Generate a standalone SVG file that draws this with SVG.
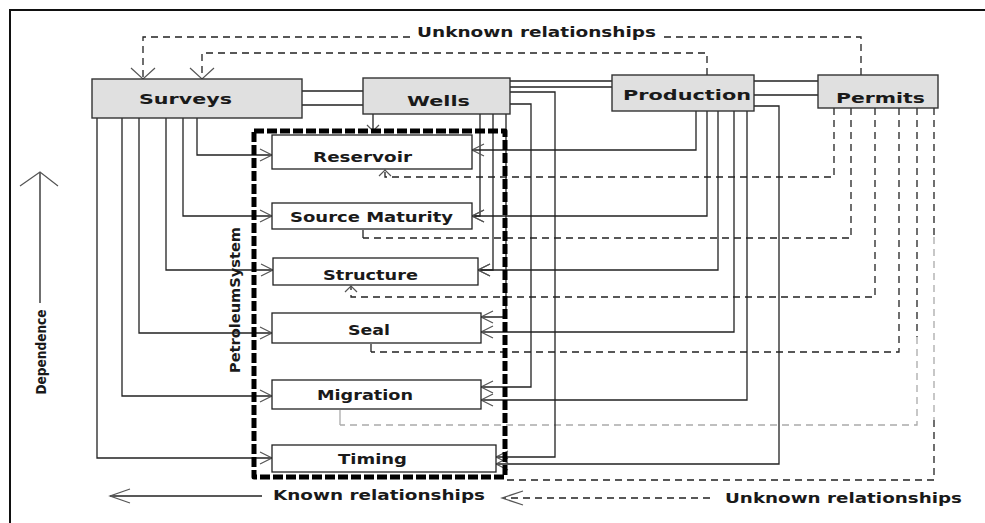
<svg xmlns="http://www.w3.org/2000/svg" width="985" height="523" viewBox="0 0 985 523">
  <style>
    .frame { fill: none; stroke: #111; stroke-width: 2; }
    .top { fill: #e0e0e0; stroke: #333; stroke-width: 1.4; }
    .elem { fill: #fff; stroke: #222; stroke-width: 1.3; }
    .lbl { font-family: "DejaVu Sans", "Liberation Sans", sans-serif; font-weight: bold; font-size: 14px; fill: #1a1a1a; }
    .known { fill: none; stroke: #222; stroke-width: 1.3; }
    .unknown { fill: none; stroke: #222; stroke-width: 1.3; stroke-dasharray: 7 5; }
    .faint { fill: none; stroke: #aaa; stroke-width: 1.3; stroke-dasharray: 7 5; }
    .tick { fill: none; stroke: #222; stroke-width: 1.3; }
    .head { fill: none; stroke: #555; stroke-width: 1.2; stroke-dasharray: none; }
    .sys { fill: none; stroke: #000; stroke-width: 5; stroke-dasharray: 10 3; stroke-linejoin: round; }
  </style>
  <defs>
    <marker id="arr" markerUnits="userSpaceOnUse" viewBox="-14 -10 16 20" markerWidth="16" markerHeight="20" refX="0" refY="0" orient="auto" overflow="visible">
      <path class="head" d="M-12,-6 L0,0 L-12,6"/>
    </marker>
    <marker id="arrWide" markerUnits="userSpaceOnUse" viewBox="-14 -14 16 28" markerWidth="16" markerHeight="28" refX="0" refY="0" orient="auto" overflow="visible">
      <path class="head" d="M-11,-12 L0,0 L-11,12"/>
    </marker>
    <marker id="arrSmall" markerUnits="userSpaceOnUse" viewBox="-10 -8 12 16" markerWidth="12" markerHeight="16" refX="0" refY="0" orient="auto" overflow="visible">
      <path class="head" d="M-6,-6 L0,0 L-6,6"/>
    </marker>
  </defs>

  <!-- page frame -->
  <path class="frame" d="M10,523 V10 H985"/>

  <!-- connectors -->
  <g id="connectors">
    <!-- unknown relationships (dashed) -->
    <path class="unknown" d="M861,75 V37 H660"/>
    <path class="unknown" d="M410,37 H143 V79" marker-end="url(#arrWide)"/>
    <path class="unknown" d="M707,75 V53 H202 V79" marker-end="url(#arrWide)"/>
    <path class="unknown" d="M834,108 V177 H385 V170" marker-end="url(#arrSmall)"/>
    <path class="unknown" d="M851,108 V238 H363"/>
    <path class="tick" d="M363,238 V230"/>
    <path class="unknown" d="M875,108 V297 H351 V286" marker-end="url(#arrSmall)"/>
    <path class="unknown" d="M899,108 V352 H371"/>
    <path class="tick" d="M371,352 V344"/>
    <path class="unknown" d="M917,108 V337"/>
    <path class="faint" d="M917,337 V425 H340"/>
    <path class="faint" d="M340,425 V410" style="stroke-dasharray:none"/>
    <path class="unknown" d="M934,108 V237"/>
    <path class="faint" d="M934,237 V420"/>
    <path class="unknown" d="M934,420 V480 H507"/>

    <!-- known relationships: Surveys -->
    <path class="known" d="M197,118 V155 H272" marker-end="url(#arr)"/>
    <path class="known" d="M183,118 V216 H272" marker-end="url(#arr)"/>
    <path class="known" d="M166,118 V270 H273" marker-end="url(#arr)"/>
    <path class="known" d="M139,118 V333 H272" marker-end="url(#arr)"/>
    <path class="known" d="M122,118 V396 H272" marker-end="url(#arr)"/>
    <path class="known" d="M97,118 V458 H272" marker-end="url(#arr)"/>

    <!-- links between the top-level sources -->
    <path class="known" d="M302,91 H363 M302,105 H363"/>
    <path class="known" d="M510,81 H612 M510,87 H612"/>
    <path class="known" d="M754,81 H818 M754,95 H818"/>

    <!-- known relationships: Wells -->
    <path class="known" d="M373,114 V131" marker-end="url(#arrSmall)"/>
    <path class="known" d="M480,114 V216 H472" marker-end="url(#arr)"/>
    <path class="known" d="M493,114 V270 H478" marker-end="url(#arr)"/>
    <path class="known" d="M506,114 V317 H481" marker-end="url(#arr)"/>
    <path class="known" d="M510,104 H531 V387 H481" marker-end="url(#arr)"/>
    <path class="known" d="M510,92 H555 V457 H496" marker-end="url(#arr)"/>

    <!-- known relationships: Production -->
    <path class="known" d="M696,111 V150 H472" marker-end="url(#arr)"/>
    <path class="known" d="M707,111 V216 H472" marker-end="url(#arr)"/>
    <path class="known" d="M718,111 V270 H478" marker-end="url(#arr)"/>
    <path class="known" d="M734,111 V332 H481" marker-end="url(#arr)"/>
    <path class="known" d="M747,111 V400 H481" marker-end="url(#arr)"/>
    <path class="known" d="M754,106 H779 V464 H496" marker-end="url(#arr)"/>
  </g>

  <!-- top-level sources -->
  <g id="surveys">
    <rect class="top" x="92" y="79" width="210" height="39"/>
    <text class="lbl" x="139" y="104" textLength="93" lengthAdjust="spacingAndGlyphs">Surveys</text>
  </g>
  <g id="wells">
    <rect class="top" x="363" y="78" width="147" height="36"/>
    <text class="lbl" x="407" y="106" textLength="63" lengthAdjust="spacingAndGlyphs">Wells</text>
  </g>
  <g id="production">
    <rect class="top" x="612" y="75" width="142" height="36"/>
    <text class="lbl" x="623" y="100" textLength="128" lengthAdjust="spacingAndGlyphs">Production</text>
  </g>
  <g id="permits">
    <rect class="top" x="818" y="75" width="120" height="33"/>
    <text class="lbl" x="836" y="103" textLength="89" lengthAdjust="spacingAndGlyphs">Permits</text>
  </g>

  <!-- petroleum system elements -->
  <g id="reservoir">
    <rect class="elem" x="272" y="135" width="200" height="34"/>
    <text class="lbl" x="313" y="162" textLength="99" lengthAdjust="spacingAndGlyphs">Reservoir</text>
  </g>
  <g id="source-maturity">
    <rect class="elem" x="272" y="203" width="200" height="26"/>
    <text class="lbl" x="290" y="222" textLength="163" lengthAdjust="spacingAndGlyphs">Source Maturity</text>
  </g>
  <g id="structure">
    <rect class="elem" x="273" y="258" width="205" height="27"/>
    <text class="lbl" x="323" y="280" textLength="95" lengthAdjust="spacingAndGlyphs">Structure</text>
  </g>
  <g id="seal">
    <rect class="elem" x="272" y="313" width="209" height="30"/>
    <text class="lbl" x="348" y="335" textLength="42" lengthAdjust="spacingAndGlyphs">Seal</text>
  </g>
  <g id="migration">
    <rect class="elem" x="272" y="380" width="209" height="29"/>
    <text class="lbl" x="317" y="400" textLength="96" lengthAdjust="spacingAndGlyphs">Migration</text>
  </g>
  <g id="timing">
    <rect class="elem" x="272" y="445" width="224" height="27"/>
    <text class="lbl" x="338" y="464" textLength="69" lengthAdjust="spacingAndGlyphs">Timing</text>
  </g>

  <!-- petroleum system boundary -->
  <g id="petroleum-system">
    <rect class="sys" x="254" y="131" width="251" height="346"/>
    <text class="lbl" transform="translate(240,300) rotate(-90)" text-anchor="middle" font-size="13" textLength="146" lengthAdjust="spacingAndGlyphs">PetroleumSystem</text>
  </g>

  <!-- legend -->
  <g id="legend">
    <text class="lbl" x="417" y="37" textLength="239" lengthAdjust="spacingAndGlyphs">Unknown relationships</text>
    <path class="known" d="M262,496 H110"/>
    <path class="head" d="M130,489 L110,496 L130,503"/>
    <text class="lbl" x="273" y="500" textLength="212" lengthAdjust="spacingAndGlyphs">Known relationships</text>
    <path class="unknown" d="M710,498 H503"/>
    <path class="head" d="M523,491 L502,498 L523,505"/>
    <text class="lbl" x="725" y="503" textLength="237" lengthAdjust="spacingAndGlyphs">Unknown relationships</text>
    <path class="known" d="M40,303 V172"/>
    <path class="head" d="M20,186 L40,172 L58,186"/>
    <text class="lbl" transform="translate(46,352) rotate(-90)" text-anchor="middle" font-size="12" textLength="85" lengthAdjust="spacingAndGlyphs">Dependence</text>
  </g>
</svg>
